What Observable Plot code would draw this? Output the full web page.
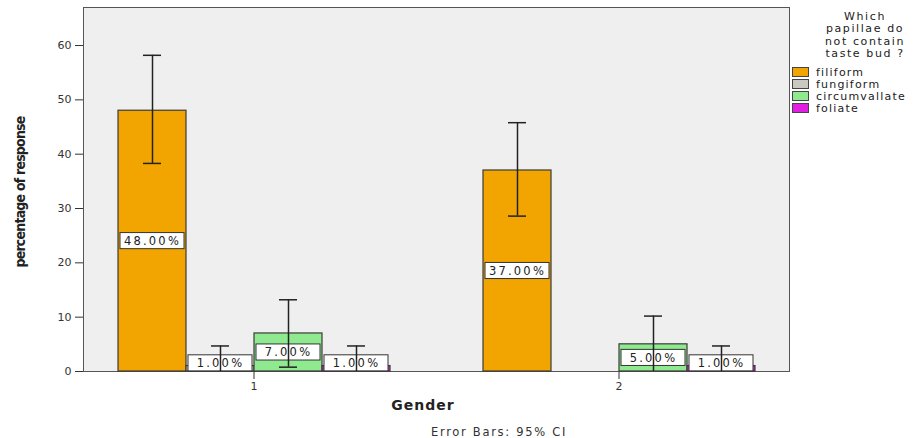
<!DOCTYPE html>
<html><head><meta charset="utf-8">
<script src="https://cdn.jsdelivr.net/npm/d3@7"></script>
<script src="https://cdn.jsdelivr.net/npm/@observablehq/plot@0.6"></script>
<style>
body{margin:0;background:#fff;}
#wrap{position:relative;width:918px;height:438px;overflow:hidden;font-family:"DejaVu Sans",sans-serif;}
#wrap svg{position:absolute;left:0;top:0;}
#wrap svg g[aria-label="text"] text{letter-spacing:2.2px;}
#ylab{position:absolute;left:20px;top:192px;transform:translate(-50%,-50%) rotate(-90deg);white-space:nowrap;font-family:"Liberation Sans Narrow","DejaVu Sans Condensed",sans-serif;font-weight:bold;font-size:14px;letter-spacing:-0.8px;color:#222;}
#xlab{position:absolute;left:423px;top:405px;transform:translate(-50%,-50%);font-family:"DejaVu Sans",sans-serif;font-weight:bold;font-size:14px;color:#222;letter-spacing:1px;}
#cap{position:absolute;left:499px;top:432px;transform:translate(-50%,-50%);white-space:nowrap;font-size:11.5px;color:#333;letter-spacing:1.7px;}
#legend{position:absolute;left:790px;top:11px;width:128px;}
#ltitle{margin-left:22px;width:106px;text-align:center;font-size:11px;line-height:12.3px;color:#222;letter-spacing:1.6px;}
.li{display:flex;align-items:center;height:12px;font-size:11px;color:#222;letter-spacing:1.2px;white-space:nowrap;}
.sw{width:15px;height:8px;border:1px solid #444;margin:0 7px 0 2px;flex:none;}
</style></head><body>
<div id="wrap"></div>
<script>
const typeOrder = ["filiform","fungiform","circumvallate","foliate"];
const typeColors = ["#f2a500","#c9c9c1","#8fea8f","#e21ee2"];
const genderLevels = ["1","2"];
const barGender = ["1","1","1","1","2","2","2"];
const barType = ["filiform","fungiform","circumvallate","foliate","filiform","circumvallate","foliate"];
const barValue = [48,1,7,1,37,5,1];
const ciLow = [38.3,0,0.8,0,28.6,0,0];
const ciHigh = [58.2,4.7,13.2,4.7,45.8,10.2,4.7];
const barLabels = ["48.00%","1.00%","7.00%","1.00%","37.00%","5.00%","1.00%"];
const yTicks = [0,10,20,30,40,50,60];
const legendTitle = ["Which","papillae do","not contain","taste bud ?"];

const data = barValue.map((v,i)=>({gender:barGender[i], type:barType[i], value:v, lo:ciLow[i], hi:ciHigh[i], label:barLabels[i], ly:Math.max(v/2,1.5)}));

const chart = Plot.plot({
  width:918, height:438,
  marginLeft:83, marginRight:129, marginTop:7, marginBottom:67,
  style:{fontFamily:"DejaVu Sans, sans-serif", fontSize:"11px", color:"#333", background:"transparent"},
  fx:{domain:genderLevels, paddingInner:0.066, paddingOuter:0, label:null, axis:"bottom", tickSize:8, tickPadding:3},
  x:{domain:typeOrder, paddingInner:0, paddingOuter:0.5, axis:null},
  y:{domain:[0,67], ticks:yTicks, tickSize:8, tickPadding:4, label:null},
  color:{domain:typeOrder, range:typeColors},
  marks:[
    Plot.frame({facet:"super", fill:"#efefef", stroke:"#555"}),
    Plot.barY(data,{fx:"gender", x:"type", y:"value", fill:"type", stroke:"#3a3a3a", strokeWidth:1.2}),
    Plot.barY(data,{fx:"gender", x:"type", y1:d=>d.ly-1.48, y2:d=>d.ly+1.48, fill:"white", stroke:"#333", insetLeft:2, insetRight:2}),
    Plot.text(data,{fx:"gender", x:"type", y:"ly", text:"label", fill:"#222", fontSize:11.5}),
    Plot.ruleX(data,{fx:"gender", x:"type", y1:"lo", y2:"hi", stroke:"#222", strokeWidth:1.5}),
    Plot.tickY(data,{fx:"gender", x:"type", y:"hi", stroke:"#222", strokeWidth:1.5, insetLeft:25, insetRight:25}),
    Plot.tickY(data.filter(d=>d.lo>0),{fx:"gender", x:"type", y:"lo", stroke:"#222", strokeWidth:1.5, insetLeft:25, insetRight:25})
  ]
});
const wrap = document.getElementById("wrap");
wrap.appendChild(chart);

const add = (id, txt) => { const d = document.createElement("div"); d.id = id; d.textContent = txt; wrap.appendChild(d); return d; };
add("ylab","percentage of response");
add("xlab","Gender");
add("cap","Error Bars: 95% CI");
const leg = document.createElement("div"); leg.id = "legend";
const lt = document.createElement("div"); lt.id = "ltitle";
legendTitle.forEach(t=>{ const s=document.createElement("div"); s.textContent=t; lt.appendChild(s); });
leg.appendChild(lt);
const items = document.createElement("div"); items.style.marginTop = "6px";
typeOrder.forEach((t,i)=>{
  const r=document.createElement("div"); r.className="li";
  const sw=document.createElement("span"); sw.className="sw"; sw.style.background=typeColors[i];
  const tx=document.createElement("span"); tx.textContent=t;
  r.appendChild(sw); r.appendChild(tx); items.appendChild(r);
});
leg.appendChild(items);
wrap.appendChild(leg);
</script>
</body></html>
